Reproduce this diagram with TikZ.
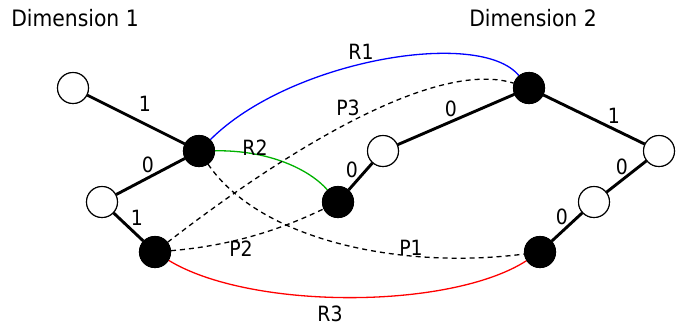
\documentclass[tikz,border=0pt]{standalone}
\usepackage{fontspec}
\setmainfont{DejaVu Sans Condensed}
\begin{document}
\begin{tikzpicture}[x=1pt,y=-1pt,
  wnode/.style={circle,draw=black,fill=white,line width=1.1pt,minimum size=31pt,inner sep=0pt},
  bnode/.style={circle,draw=black,fill=black,line width=1.1pt,minimum size=31pt,inner sep=0pt},
  tree/.style={line width=2.9pt},
  link/.style={line width=1.3pt},
  pth/.style={line width=1.3pt,dash pattern=on 5pt off 4pt},
  lab/.style={font=\fontsize{21}{23}\selectfont,inner sep=0pt},
  ttl/.style={font=\fontsize{22.6}{25}\selectfont,inner sep=0pt}]
\useasboundingbox (0,0) rectangle (691,327);
\node[ttl] (t1) at (75,18) {Dimension 1};
\node[ttl] (t2) at (533,18) {Dimension 2};
% nodes
\node[wnode] (A) at (73,88) {};
\node[bnode] (B) at (199,151) {};
\node[wnode] (C) at (102,202) {};
\node[bnode] (D) at (155,252) {};
\node[bnode] (E) at (338,202) {};
\node[wnode] (F) at (383,151) {};
\node[bnode] (G) at (529,88) {};
\node[wnode] (H) at (659,151) {};
\node[wnode] (I) at (594,202) {};
\node[bnode] (J) at (540,252) {};
% tree edges
\draw[tree] (A) -- (B);
\draw[tree] (B) -- (C);
\draw[tree] (C) -- (D);
\draw[tree] (E) -- (F);
\draw[tree] (F) -- (G);
\draw[tree] (G) -- (H);
\draw[tree] (H) -- (I);
\draw[tree] (I) -- (J);
% edge labels
\node[lab] (l1) at (145,104) {1};
\node[lab] (l2) at (148,165) {0};
\node[lab] (l3) at (137,218) {1};
\node[lab] (l4) at (352,170) {0};
\node[lab] (l5) at (451,109) {0};
\node[lab] (l6) at (614,116) {1};
\node[lab] (l7) at (622,167) {0};
\node[lab] (l8) at (562,217) {0};
% relations
\draw[link,blue] (B) .. controls (290,60) and (480,28) .. (G);
\draw[link,green!70!black] (B) .. controls (270,150) and (310,170) .. (E);
\draw[link,red] (D) .. controls (250,310) and (450,310) .. (J);
% paths
\draw[pth] (B) .. controls (260,240) and (400,270) .. (J);
\draw[pth] (D) .. controls (240,245) and (290,225) .. (E);
\draw[pth] (D) .. controls (300,140) and (440,60) .. (G);
% redraw nodes on top
\foreach \n in {A,C,F,H,I} \node[wnode] at (\n) {};
\foreach \n in {B,D,E,G,J} \node[bnode] at (\n) {};
% curve labels
\node[lab] (r1) at (361,52) {R1};
\node[lab] (r2) at (255,148) {R2};
\node[lab] (r3) at (330,314) {R3};
\node[lab] (p1) at (411,248) {P1};
\node[lab] (p2) at (241,249) {P2};
\node[lab] (p3) at (348,108) {P3};
\end{tikzpicture}
\end{document}
